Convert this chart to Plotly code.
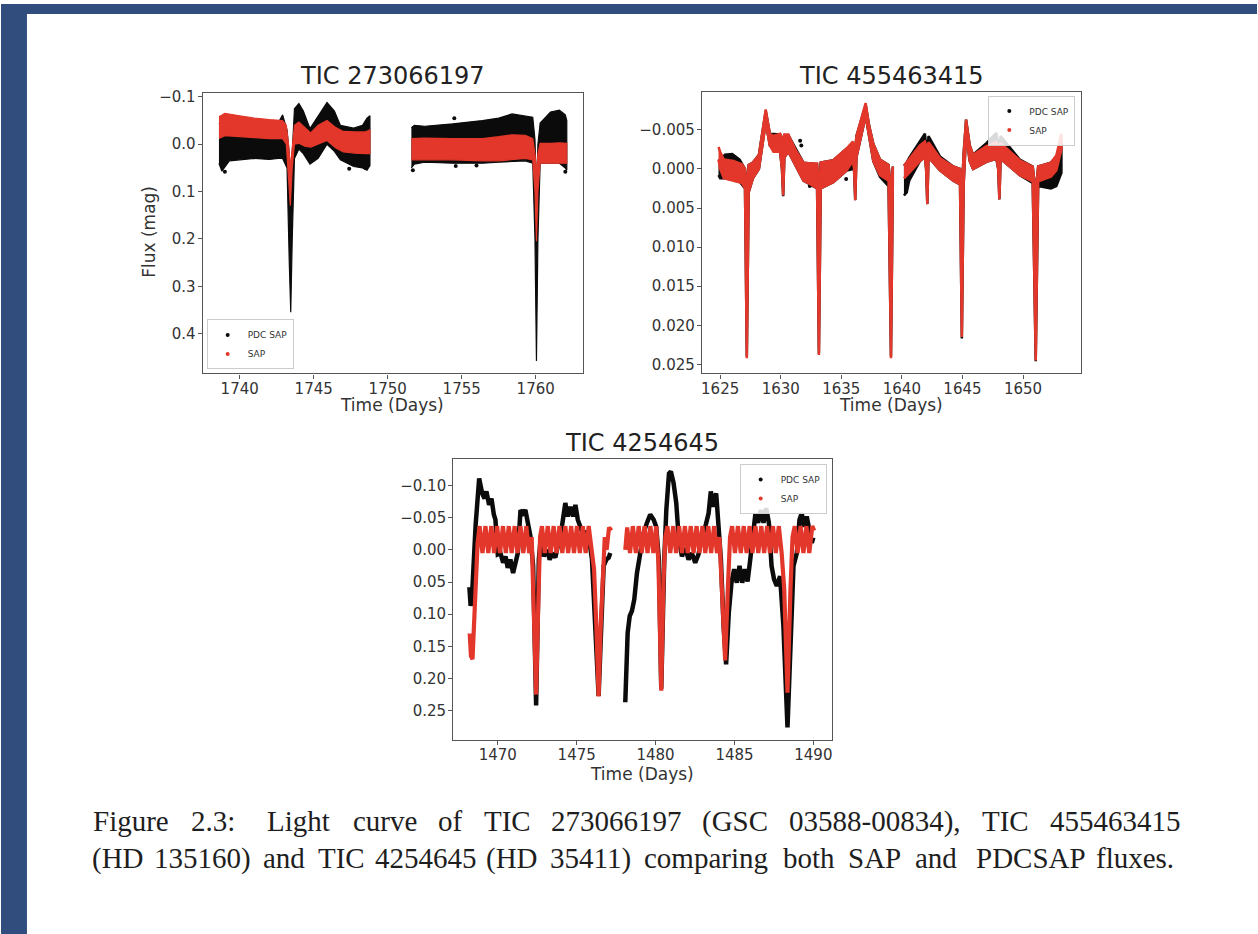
import plotly.graph_objects as go

W, H = 1258, 934
def fx(px): return px / W
def fy(py): return 1 - py / H

BLACK = "#0b0b0b"
RED = "#e2372a"

# ---------------- Panel 1: TIC 273066197 (noisy bands: time, upper edge, lower edge) -------------
P1_PDC_A_T = [1738.6, 1738.8, 1739.3, 1740.0, 1741.0, 1742.0, 1742.6, 1742.9, 1743.2, 1743.35, 1743.45, 1743.55,
              1743.7, 1744.0, 1744.3, 1744.75, 1745.3, 1745.9, 1746.4, 1746.8, 1747.7, 1748.3, 1748.6, 1748.8]
P1_PDC_A_TOP = [-0.045, -0.04, -0.03, -0.025, -0.022, -0.025, -0.045, -0.062, -0.03, 0.02, 0.08, 0.02,
                -0.075, -0.086, -0.07, -0.033, -0.06, -0.088, -0.07, -0.04, -0.034, -0.04, -0.055, -0.06]
P1_PDC_A_BOT = [0.04, 0.057, 0.035, 0.033, 0.03, 0.032, 0.03, 0.03, 0.05, 0.25, 0.355, 0.2,
                0.03, 0.01, 0.02, 0.042, 0.03, 0.0, 0.015, 0.033, 0.047, 0.05, 0.055, 0.045]
P1_PDC_B_T = [1751.6, 1751.8, 1752.5, 1754.4, 1756.4, 1757.5, 1758.4, 1759.3, 1759.8, 1759.95, 1760.05, 1760.15,
              1760.3, 1761.0, 1761.6, 1762.0, 1762.1]
P1_PDC_B_TOP = [-0.035, -0.04, -0.038, -0.043, -0.05, -0.055, -0.064, -0.06, -0.057, -0.01, 0.1, 0.0,
                -0.045, -0.068, -0.072, -0.062, -0.05]
P1_PDC_B_BOT = [0.05, 0.042, 0.038, 0.04, 0.04, 0.038, 0.036, 0.035, 0.04, 0.2, 0.458, 0.2,
                0.04, 0.04, 0.04, 0.05, 0.055]
P1_PDC_DOTS_T = [1739.0, 1747.4, 1748.5, 1751.7, 1754.5, 1754.6, 1756.0, 1762.0]
P1_PDC_DOTS_V = [0.058, 0.052, 0.05, 0.055, -0.055, 0.046, 0.045, 0.058]

P1_SAP_A_T = [1738.6, 1739.0, 1740.0, 1741.0, 1742.0, 1742.9, 1743.15, 1743.3, 1743.42, 1743.55, 1743.7, 1744.0,
              1744.4, 1744.8, 1745.3, 1745.9, 1746.5, 1747.0, 1747.8, 1748.5, 1748.8]
P1_SAP_A_TOP = [-0.058, -0.065, -0.06, -0.055, -0.052, -0.05, -0.04, 0.0, 0.05, 0.0, -0.04, -0.047,
                -0.035, -0.024, -0.04, -0.05, -0.035, -0.027, -0.026, -0.026, -0.03]
P1_SAP_A_BOT = [-0.012, -0.018, -0.016, -0.014, -0.012, -0.012, 0.0, 0.06, 0.13, 0.05, 0.0, -0.002,
                0.004, 0.006, 0.0, -0.008, 0.008, 0.016, 0.019, 0.02, 0.02]
P1_SAP_B_T = [1751.6, 1752.5, 1754.4, 1756.4, 1757.5, 1758.4, 1759.3, 1759.8, 1759.95, 1760.05, 1760.15, 1760.3,
              1761.0, 1761.6, 1762.1]
P1_SAP_B_TOP = [-0.012, -0.013, -0.012, -0.012, -0.016, -0.02, -0.019, -0.012, 0.02, 0.06, 0.02, -0.002,
                -0.002, -0.003, -0.002]
P1_SAP_B_BOT = [0.033, 0.033, 0.033, 0.035, 0.035, 0.032, 0.03, 0.033, 0.1, 0.205, 0.1, 0.04,
                0.04, 0.04, 0.04]

P1_XTICKS = [1740, 1745, 1750, 1755, 1760]
P1_YTICKS = [-0.1, 0.0, 0.1, 0.2, 0.3, 0.4]
P1_YLABELS = ["\u22120.1", "0.0", "0.1", "0.2", "0.3", "0.4"]

# ---------------- Panel 2: TIC 455463415 -------------
P2_SAP_A_T = [1624.86, 1625.0, 1625.3, 1626.1, 1626.8, 1627.05, 1627.2, 1627.35, 1627.7, 1628.2, 1628.76, 1629.1,
              1629.4, 1629.95, 1630.1, 1630.2, 1630.3, 1630.63, 1631.2, 1631.87, 1632.5, 1633.0, 1633.15, 1633.3,
              1634.34, 1635.44, 1635.95, 1636.05, 1636.15, 1636.25, 1637.01, 1637.3, 1637.64, 1638.19, 1638.9,
              1639.1, 1639.25]
P2_SAP_A_TOP = [-0.0028, -0.0022, -0.0012, -0.001, -0.0006, 0.0, 0.003, -0.0005, -0.0008, -0.0018, -0.0076, -0.0045,
                -0.0042, -0.0045, -0.004, -0.0035, -0.0044, -0.0044, -0.0025, -0.0008, -0.0007, -0.0007, 0.003,
                -0.0008, -0.0011, -0.0026, -0.0035, -0.003, -0.0025, -0.0042, -0.0084, -0.0055, -0.0032, -0.0012,
                -0.0005, 0.003, -0.0003]
P2_SAP_A_BOT = [-0.0012, 0.0, 0.0012, 0.0015, 0.0018, 0.0025, 0.0242, 0.003, 0.0012, 0.0, -0.0058, -0.003,
                -0.0022, -0.0022, 0.0, 0.0034, -0.0015, -0.0022, -0.0005, 0.0015, 0.002, 0.0025, 0.0238, 0.0025,
                0.0017, 0.0002, -0.001, 0.0, 0.004, -0.0015, -0.0068, -0.004, -0.001, 0.0008, 0.0015, 0.0242, 0.002]
P2_SAP_B_T = [1640.17, 1640.6, 1641.49, 1641.9, 1642.0, 1642.1, 1642.2, 1643.14, 1644.24, 1644.8, 1644.95, 1645.1,
              1645.3, 1645.6, 1645.88, 1646.98, 1647.8, 1647.95, 1648.05, 1648.15, 1649.73, 1650.8, 1651.05,
              1651.25, 1652.3, 1652.75, 1653.17]
P2_SAP_B_TOP = [-0.0004, -0.0012, -0.003, -0.0035, -0.003, -0.0025, -0.0034, -0.0014, -0.0003, 0.0, 0.003, -0.002,
                -0.0063, -0.003, -0.0018, -0.0029, -0.0034, -0.003, -0.0025, -0.0033, -0.0011, -0.0003, 0.003,
                -0.0003, -0.0008, -0.0017, -0.0045]
P2_SAP_B_BOT = [0.0012, 0.0005, -0.001, -0.0015, 0.0, 0.0045, -0.0015, 0.0002, 0.0015, 0.002, 0.0215, 0.002,
                -0.0045, -0.001, 0.0, -0.0009, -0.0013, 0.0, 0.0039, -0.0013, 0.0008, 0.0016, 0.0245, 0.0016,
                0.001, 0.0002, -0.0025]

P2_PDC_A_T = [1624.86, 1625.0, 1625.4, 1626.0, 1626.6, 1627.05, 1627.2, 1627.35, 1627.7, 1628.2, 1628.76, 1629.1,
              1629.95, 1630.1, 1630.2, 1630.3, 1630.63, 1631.87, 1633.0, 1633.15, 1633.3, 1634.34, 1635.44,
              1636.05, 1636.15, 1636.25, 1637.01, 1637.3, 1637.64, 1638.19, 1638.9, 1639.1, 1639.25]
P2_PDC_A_TOP = [-0.001, -0.0012, -0.0018, -0.0019, -0.0012, 0.0, 0.003, -0.0005, -0.0008, -0.0018, -0.0074, -0.0045,
                -0.0044, -0.004, -0.0035, -0.0043, -0.0043, -0.0008, -0.0006, 0.003, -0.0008, -0.0011, -0.0026,
                -0.003, -0.0025, -0.0042, -0.0082, -0.0055, -0.0032, -0.0012, -0.0005, 0.003, -0.0003]
P2_PDC_A_BOT = [0.0008, 0.0012, 0.0012, 0.0014, 0.0016, 0.0025, 0.024, 0.003, 0.0012, 0.0, -0.006, -0.003,
                -0.0022, 0.0, 0.0035, -0.0015, -0.0022, 0.0015, 0.0025, 0.0236, 0.0025, 0.0017, 0.0002,
                0.0, 0.004, -0.0015, -0.0068, -0.004, -0.001, 0.001, 0.0022, 0.024, 0.0022]
P2_PDC_B_T = [1640.17, 1640.4, 1640.6, 1641.49, 1641.9, 1642.0, 1642.1, 1642.2, 1643.14, 1644.24, 1644.8, 1644.95,
              1645.1, 1645.3, 1645.6, 1645.88, 1646.98, 1647.8, 1647.95, 1648.05, 1648.15, 1649.73, 1650.8,
              1651.05, 1651.25, 1652.3, 1652.75, 1653.17]
P2_PDC_B_TOP = [-0.0004, -0.0008, -0.0014, -0.0036, -0.0045, -0.003, -0.0025, -0.0042, -0.0016, -0.0003, 0.0, 0.003,
                -0.002, -0.0063, -0.003, -0.0018, -0.0033, -0.0046, -0.003, -0.0025, -0.0042, -0.0012, -0.0003,
                0.003, -0.0003, -0.0008, -0.0015, -0.0035]
P2_PDC_B_BOT = [0.0034, 0.003, 0.0015, -0.001, -0.0015, 0.0, 0.0045, -0.0015, 0.0002, 0.0015, 0.002, 0.0217,
                0.002, -0.0045, -0.001, 0.0, -0.0009, -0.0013, 0.0, 0.0039, -0.0013, 0.0008, 0.0018,
                0.0246, 0.0022, 0.0025, 0.0022, 0.0005]
P2_PDC_DOTS_T = [1631.6, 1631.7, 1635.4, 1632.4]
P2_PDC_DOTS_V = [-0.0036, -0.003, 0.0013, 0.0022]

P2_XTICKS = [1625, 1630, 1635, 1640, 1645, 1650]
P2_YTICKS = [-0.005, 0.0, 0.005, 0.010, 0.015, 0.020, 0.025]
P2_YLABELS = ["\u22120.005", "0.000", "0.005", "0.010", "0.015", "0.020", "0.025"]

# ---------------- Panel 3: TIC 4254645 -------------
P3_PDC_A_T = [1468.2, 1468.28, 1468.36, 1468.45, 1468.6, 1468.82, 1469.01, 1469.16, 1469.28, 1469.45, 1469.6,
              1469.75, 1469.85, 1470.0, 1470.17, 1470.34, 1470.49, 1470.63, 1470.8, 1470.97, 1471.12, 1471.27,
              1471.44, 1471.6, 1471.75, 1471.9, 1472.07, 1472.24, 1472.43, 1472.6, 1472.7, 1472.91, 1473.12,
              1473.29, 1473.46, 1473.65, 1473.86, 1474.07, 1474.28, 1474.43, 1474.6, 1474.77, 1474.92, 1475.07,
              1475.23, 1475.44, 1475.66, 1475.82, 1475.97, 1476.18, 1476.39, 1476.56, 1476.71, 1476.88, 1477.03,
              1477.13]
P3_PDC_A_V = [0.058, 0.087, 0.075, 0.03, -0.04, -0.111, -0.088, -0.08, -0.091, -0.07, -0.08,
              -0.055, -0.047, 0.007, 0.005, 0.02, 0.01, 0.028, 0.015, 0.036, 0.02, 0.005,
              -0.062, -0.057, -0.062, -0.044, -0.021, 0.025, 0.242, 0.015, -0.011, 0.01, 0.0,
              0.015, 0.005, 0.012, -0.011, -0.037, -0.073, -0.052, -0.067, -0.052, -0.07, -0.047,
              -0.036, -0.021, -0.029, -0.011, 0.015, 0.118, 0.227, 0.118, 0.025, 0.015, 0.012,
              0.005]
P3_PDC_B_T = [1478.08, 1478.23, 1478.36, 1478.5, 1478.65, 1478.82, 1479.03, 1479.24, 1479.45, 1479.66, 1479.88,
              1480.04, 1480.21, 1480.36, 1480.55, 1480.68, 1480.85, 1480.97, 1481.14, 1481.31, 1481.46, 1481.67,
              1481.88, 1482.09, 1482.3, 1482.51, 1482.72, 1482.93, 1483.15, 1483.36, 1483.5, 1483.67, 1483.84,
              1483.99, 1484.14, 1484.31, 1484.47, 1484.64, 1484.81, 1484.98, 1485.15, 1485.32, 1485.49, 1485.66,
              1485.83, 1486.0, 1486.16, 1486.33, 1486.5, 1486.67, 1486.84, 1487.01, 1487.18, 1487.35, 1487.51,
              1487.68, 1487.89, 1488.1, 1488.36, 1488.57, 1488.74, 1488.95, 1489.12, 1489.26, 1489.41, 1489.58,
              1489.75, 1489.9, 1490.0]
P3_PDC_B_V = [0.237, 0.129, 0.103, 0.095, 0.077, 0.036, 0.005, -0.026, -0.042, -0.055, -0.047,
              -0.036, 0.015, 0.216, 0.015, -0.062, -0.119, -0.122, -0.104, -0.073, -0.021, 0.01,
              -0.003, 0.015, 0.005, 0.02, 0.007, -0.021, -0.036, -0.057, -0.091, -0.067, -0.088,
              -0.036, 0.015, 0.118, 0.178, 0.098, 0.051, 0.03, 0.051, 0.025, 0.051, 0.03,
              0.049, 0.015, -0.021, -0.057, -0.042, -0.062, -0.042, -0.065, -0.042, 0.025, 0.046,
              0.056, 0.041, 0.118, 0.276, 0.118, 0.025, 0.005, -0.047, -0.057, -0.036, -0.052,
              -0.026, -0.011, -0.019]
P3_SAP_A_T = [1468.22, 1468.30, 1468.40, 1468.50, 1468.62, 1468.72, 1468.85, 1469.03, 1469.22, 1469.40, 1469.59,
              1469.77, 1469.96, 1470.14, 1470.33, 1470.51, 1470.70, 1470.88, 1471.07, 1471.25, 1471.44, 1471.62,
              1471.81, 1471.99, 1472.15, 1472.30, 1472.43, 1472.55, 1472.68, 1472.80, 1472.98, 1473.17, 1473.35,
              1473.54, 1473.72, 1473.91, 1474.09, 1474.28, 1474.46, 1474.65, 1474.83, 1475.02, 1475.20, 1475.39,
              1475.57, 1475.76, 1475.94, 1476.10, 1476.25, 1476.39, 1476.52, 1476.65, 1476.78, 1476.90, 1477.05,
              1477.20]
P3_SAP_A_V = [0.13, 0.165, 0.17, 0.12, 0.03, -0.01, -0.037, 0.005, -0.037, 0.005, -0.037,
              0.005, -0.037, 0.005, -0.037, 0.005, -0.037, 0.005, -0.037, 0.005, -0.037, 0.005,
              -0.037, 0.005, -0.02, 0.10, 0.225, 0.10, -0.02, -0.037, 0.005, -0.037, 0.005,
              -0.037, 0.005, -0.037, 0.005, -0.037, 0.005, -0.037, 0.005, -0.037, 0.005, -0.037,
              0.005, -0.037, 0.005, 0.03, 0.12, 0.228, 0.12, 0.03, -0.02, 0.0, -0.035,
              -0.03]
P3_SAP_B_T = [1478.08, 1478.20, 1478.38, 1478.56, 1478.75, 1478.93, 1479.12, 1479.30, 1479.49, 1479.67, 1479.86,
              1480.04, 1480.18, 1480.36, 1480.50, 1480.62, 1480.75, 1480.93, 1481.12, 1481.30, 1481.49, 1481.67,
              1481.86, 1482.04, 1482.23, 1482.41, 1482.60, 1482.78, 1482.97, 1483.15, 1483.34, 1483.52, 1483.71,
              1483.89, 1484.05, 1484.20, 1484.41, 1484.58, 1484.72, 1484.85, 1485.03, 1485.22, 1485.40, 1485.59,
              1485.77, 1485.96, 1486.14, 1486.33, 1486.51, 1486.70, 1486.88, 1487.07, 1487.25, 1487.44, 1487.62,
              1487.81, 1487.99, 1488.15, 1488.36, 1488.55, 1488.68, 1488.82, 1489.00, 1489.19, 1489.37, 1489.56,
              1489.74, 1489.93, 1490.05]
P3_SAP_B_V = [0.0, -0.035, 0.005, -0.037, 0.005, -0.037, 0.005, -0.037, 0.005, -0.037, 0.005,
              -0.037, 0.02, 0.219, 0.05, -0.02, -0.037, 0.005, -0.037, 0.005, -0.037, 0.005,
              -0.037, 0.005, -0.037, 0.005, -0.037, 0.005, -0.037, 0.005, -0.037, 0.005, -0.037,
              0.005, -0.02, 0.06, 0.172, 0.06, -0.02, -0.037, 0.005, -0.037, 0.005, -0.037,
              0.005, -0.037, 0.005, -0.037, 0.005, -0.037, 0.005, -0.037, 0.005, -0.037, 0.005,
              -0.037, 0.005, 0.06, 0.222, 0.06, -0.02, -0.037, 0.005, -0.037, 0.005, -0.037,
              0.005, -0.037, -0.03]

P3_XTICKS = [1470, 1475, 1480, 1485, 1490]
P3_YTICKS = [-0.10, -0.05, 0.0, 0.05, 0.10, 0.15, 0.20, 0.25]
P3_YLABELS = ["\u22120.10", "\u22120.05", "0.00", "0.05", "0.10", "0.15", "0.20", "0.25"]

TITLES = ["TIC 273066197", "TIC 455463415", "TIC 4254645"]
SERIES = ["PDC SAP", "SAP"]
XLABEL = "Time (Days)"
YLABEL = "Flux (mag)"
CAPTION_1 = ["Figure", "2.3:", "Light", "curve", "of", "TIC", "273066197", "(GSC", "03588-00834),", "TIC", "455463415"]
CAPTION_2 = ["(HD", "135160)", "and", "TIC", "4254645", "(HD", "35411)", "comparing", "both", "SAP", "and",
             "PDCSAP", "fluxes."]

fig = go.Figure()


def band(t, top, bot, color, xa, ya, edge=1.2):
    xs = list(t) + list(t)[::-1]
    ys = list(top) + list(bot)[::-1]
    fig.add_trace(go.Scatter(x=xs, y=ys, mode="lines", fill="toself", fillcolor=color,
                             line=dict(color=color, width=edge), hoverinfo="skip",
                             showlegend=False, xaxis=xa, yaxis=ya))


def curve(t, v, color, width, xa, ya):
    fig.add_trace(go.Scatter(x=t, y=v, mode="lines", line=dict(color=color, width=width),
                             hoverinfo="skip", showlegend=False, xaxis=xa, yaxis=ya))


def dots(t, v, color, xa, ya):
    fig.add_trace(go.Scatter(x=t, y=v, mode="markers", marker=dict(color=color, size=4),
                             hoverinfo="skip", showlegend=False, xaxis=xa, yaxis=ya))


# Panel 1
band(P1_PDC_A_T, P1_PDC_A_TOP, P1_PDC_A_BOT, BLACK, "x", "y")
band(P1_PDC_B_T, P1_PDC_B_TOP, P1_PDC_B_BOT, BLACK, "x", "y")
dots(P1_PDC_DOTS_T, P1_PDC_DOTS_V, BLACK, "x", "y")
band(P1_SAP_A_T, P1_SAP_A_TOP, P1_SAP_A_BOT, RED, "x", "y")
band(P1_SAP_B_T, P1_SAP_B_TOP, P1_SAP_B_BOT, RED, "x", "y")
# Panel 2
band(P2_PDC_A_T, P2_PDC_A_TOP, P2_PDC_A_BOT, BLACK, "x2", "y2", 2.5)
band(P2_PDC_B_T, P2_PDC_B_TOP, P2_PDC_B_BOT, BLACK, "x2", "y2", 2.5)
dots(P2_PDC_DOTS_T, P2_PDC_DOTS_V, BLACK, "x2", "y2")
band(P2_SAP_A_T, P2_SAP_A_TOP, P2_SAP_A_BOT, RED, "x2", "y2", 2.5)
band(P2_SAP_B_T, P2_SAP_B_TOP, P2_SAP_B_BOT, RED, "x2", "y2", 2.5)
# Panel 3
curve(P3_PDC_A_T, P3_PDC_A_V, BLACK, 4.5, "x3", "y3")
curve(P3_PDC_B_T, P3_PDC_B_V, BLACK, 4.5, "x3", "y3")
curve(P3_SAP_A_T, P3_SAP_A_V, RED, 4.2, "x3", "y3")
curve(P3_SAP_B_T, P3_SAP_B_V, RED, 4.2, "x3", "y3")

# legend entries
for lg, xa, ya in [("legend", "x", "y"), ("legend2", "x2", "y2"), ("legend3", "x3", "y3")]:
    for name, col in zip(SERIES, [BLACK, RED]):
        fig.add_trace(go.Scatter(x=[None], y=[None], mode="markers", name=name,
                                 marker=dict(color=col, size=4), legend=lg, xaxis=xa, yaxis=ya))

AXC = "#555555"
TICKF = dict(family="DejaVu Sans", size=15, color="#333333")


def xax(dom, rng, ticks, anchor):
    return dict(domain=dom, range=rng, tickvals=ticks, anchor=anchor, showline=True, linecolor=AXC,
                linewidth=1.2, mirror=True, ticks="outside", ticklen=4, tickcolor=AXC, tickwidth=1,
                showgrid=False, zeroline=False, tickfont=TICKF, ticklabelstandoff=-3)


def yax(dom, rng, ticks, labels, anchor):
    return dict(domain=dom, range=rng, tickvals=ticks, ticktext=labels, anchor=anchor, showline=True,
                linecolor=AXC, linewidth=1.2, mirror=True, ticks="outside", ticklen=4, tickcolor=AXC,
                tickwidth=1, showgrid=False, zeroline=False, tickfont=TICKF, ticklabelstandoff=-1)


leg_common = dict(bgcolor="rgba(255,255,255,0.85)", bordercolor="#cccccc", borderwidth=1,
                  font=dict(family="DejaVu Sans", size=9, color="#333333"), itemwidth=30,
                  tracegroupgap=0)

fig.update_layout(
    width=W, height=H, margin=dict(l=0, r=0, t=0, b=0),
    paper_bgcolor="white", plot_bgcolor="white",
    font=dict(family="DejaVu Sans"),
    xaxis=xax([fx(202), fx(583)], [1737.5, 1763.2], P1_XTICKS, "y"),
    yaxis=yax([fy(371), fy(89)], [0.484, -0.109], P1_YTICKS, P1_YLABELS, "x"),
    xaxis2=xax([fx(702), fx(1082)], [1623.49, 1654.81], P2_XTICKS, "y2"),
    yaxis2=yax([fy(371), fy(88)], [0.02615, -0.00988], P2_YTICKS, P2_YLABELS, "x2"),
    xaxis3=xax([fx(453), fx(832)], [1467.18, 1491.16], P3_XTICKS, "y3"),
    yaxis3=yax([fy(739), fy(457)], [0.2954, -0.1413], P3_YTICKS, P3_YLABELS, "x3"),
    legend=dict(x=fx(206), y=fy(367), xanchor="left", yanchor="bottom", **leg_common),
    legend2=dict(x=fx(1076), y=fy(92), xanchor="right", yanchor="top", **leg_common),
    legend3=dict(x=fx(827), y=fy(462), xanchor="right", yanchor="top", **leg_common),
)

shapes = [
    dict(type="rect", xref="paper", yref="paper", x0=0, x1=1, y0=fy(10), y1=1,
         fillcolor="#304d7e", line=dict(width=0)),
    dict(type="rect", xref="paper", yref="paper", x0=0, x1=fx(26), y0=0, y1=1,
         fillcolor="#304d7e", line=dict(width=0)),
]

ann = []
def text(s, px, py, size, family="DejaVu Sans", color="#222222", xanchor="center", angle=0):
    ann.append(dict(text=s, x=fx(px), y=fy(py), xref="paper", yref="paper", showarrow=False,
                    xanchor=xanchor, yanchor="middle", textangle=angle,
                    font=dict(family=family, size=size, color=color)))

text(TITLES[0], 392, 72, 24)
text(TITLES[1], 892, 72, 24)
text(TITLES[2], 642, 441, 24)
text(XLABEL, 392, 403, 17, color="#333333")
text(XLABEL, 891, 403, 17, color="#333333")
text(XLABEL, 642, 773, 17, color="#333333")
text(YLABEL, 148, 229, 17, color="#333333", angle=-90)

# caption: word centres (justified first line)
CAP1_XC = [130, 212, 298, 385, 450, 507, 616, 735, 875, 1006, 1116]
CAP2_XC = [117, 202, 283, 341, 426, 512, 590, 706, 809, 875, 936, 1032, 1136]
for w, x in zip(CAPTION_1, CAP1_XC):
    text(w, x, 821, 29, family="Liberation Serif", color="#1e1e1e")
for w, x in zip(CAPTION_2, CAP2_XC):
    text(w, x, 858, 29, family="Liberation Serif", color="#1e1e1e")

fig.update_layout(shapes=shapes, annotations=ann)
fig.write_html("out.html", config={"displayModeBar": False},
               post_script="document.body.style.margin='0px';document.body.style.padding='0px';")
